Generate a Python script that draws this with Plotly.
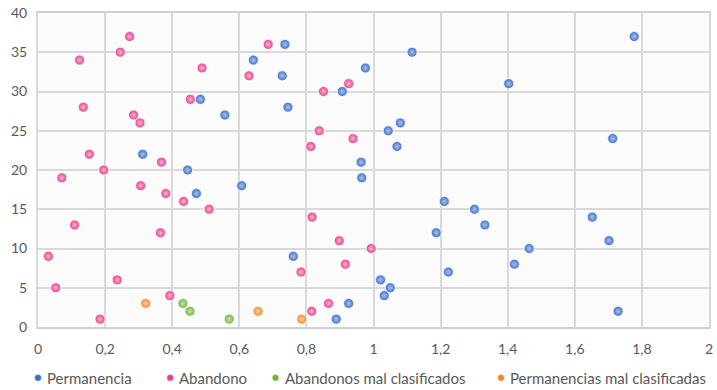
import plotly.graph_objects as go

# Permanencia
perm_x = [0.484, 0.557, 0.312, 0.446, 0.472, 0.607, 0.736, 0.642, 0.728, 0.745,
          0.976, 0.907, 1.080, 1.044, 1.070, 0.963, 0.965, 1.115, 1.211, 1.187,
          1.223, 0.761, 1.021, 1.050, 1.032, 0.926, 0.889, 1.777, 1.403, 1.713,
          1.301, 1.332, 1.464, 1.420, 1.652, 1.702, 1.729]
perm_y = [29, 27, 22, 20, 17, 18, 36, 34, 32, 28,
          33, 30, 26, 25, 23, 21, 19, 35, 16, 12,
          7, 9, 6, 5, 4, 3, 1, 37, 31, 24,
          15, 13, 10, 8, 14, 11, 2]

# Abandono
aban_x = [0.031, 0.053, 0.071, 0.109, 0.124, 0.135, 0.153, 0.196, 0.185, 0.236,
          0.245, 0.273, 0.285, 0.304, 0.306, 0.368, 0.381, 0.365, 0.393, 0.434,
          0.510, 0.489, 0.454, 0.686, 0.629, 0.851, 0.926, 0.838, 0.813, 0.939,
          0.817, 0.898, 0.993, 0.916, 0.784, 0.866, 0.816]
aban_y = [9, 5, 19, 13, 34, 28, 22, 20, 1, 6,
          35, 37, 27, 26, 18, 21, 17, 12, 4, 16,
          15, 33, 29, 36, 32, 30, 31, 25, 23, 24,
          14, 11, 10, 8, 7, 3, 2]

# Abandonos mal clasificados
aban_mal_x = [0.432, 0.453, 0.570]
aban_mal_y = [3, 2, 1]

# Permanencias mal clasificadas
perm_mal_x = [0.321, 0.656, 0.786]
perm_mal_y = [3, 2, 1]

series = [
    ("Permanencia", perm_x, perm_y, "#3E6FC4", "#A9C2EE"),
    ("Abandono", aban_x, aban_y, "#E8408A", "#F7B3D0"),
    ("Abandonos mal clasificados", aban_mal_x, aban_mal_y, "#72B33E", "#C6E4AE"),
    ("Permanencias mal clasificadas", perm_mal_x, perm_mal_y, "#F08A2C", "#FAD0A8"),
]

# legend entry anchors along the bottom (fraction of plot width)
legend_pos = [0.0, 0.197, 0.354, 0.69]

fig = go.Figure()
for name, xs, ys, col, light in series:
    fig.add_trace(go.Scatter(
        x=xs, y=ys, mode="markers", name=name, showlegend=False,
        marker=dict(size=10, color=col,
                    gradient=dict(type="radial", color=light),
                    line=dict(color="#FFFFFF", width=0.8)),
    ))

# compact legend row below the x axis: a small dot and the series name
legend_y = -0.162
for (name, _, _, col, _), px in zip(series, legend_pos):
    fig.add_shape(type="circle", xref="paper", yref="paper",
                  xsizemode="pixel", ysizemode="pixel",
                  xanchor=px, yanchor=legend_y,
                  x0=-3.5, x1=3.5, y0=-3.5, y1=3.5,
                  fillcolor=col, line=dict(color="#FFFFFF", width=0.6))
    fig.add_annotation(x=px, y=legend_y, xref="paper", yref="paper",
                       xshift=7, xanchor="left", yanchor="middle",
                       text=name, showarrow=False,
                       font=dict(size=15, color="#595959"))

grid = "#D9D9D9"
fig.update_layout(
    width=717, height=390,
    margin=dict(l=38, r=4, t=12, b=63),
    paper_bgcolor="white", plot_bgcolor="#FBFBFB",
    separators=", ",
    font=dict(family="Lato, Open Sans, sans-serif", color="#595959", size=13),
    showlegend=False,
    xaxis=dict(range=[0, 2], dtick=0.2, tick0=0, showgrid=True,
               gridcolor=grid, gridwidth=2, zeroline=False,
               showline=True, linecolor="#D0D0D0", linewidth=2, mirror=True,
               ticks="", tickfont=dict(size=14, color="#595959"),
               ticklabelstandoff=8),
    yaxis=dict(range=[0, 40], dtick=5, tick0=0, showgrid=True,
               gridcolor=grid, gridwidth=2, zeroline=False,
               showline=True, linecolor="#D9D9D9", linewidth=2, mirror=True,
               ticks="", tickfont=dict(size=14, color="#595959"),
               ticklabelstandoff=6),
)

fig.write_html("out.html")
